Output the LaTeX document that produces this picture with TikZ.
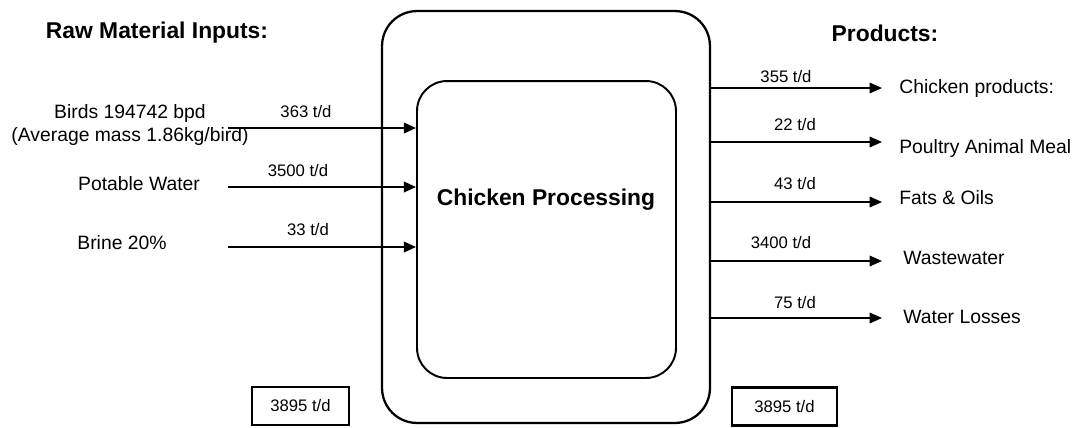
\documentclass[tikz,border=0pt]{standalone}
\usepackage{fontspec}
\setmainfont{Liberation Sans}
\usetikzlibrary{arrows.meta,positioning}

\begin{document}
\begin{tikzpicture}[x=0.02cm, y=-0.02cm,
          hdr/.style={font=\fontsize{13}{15}\selectfont\bfseries, inner sep=0pt},
          lbl/.style={font=\fontsize{11}{13.5}\selectfont, align=center, inner sep=0pt},
          amt/.style={font=\fontsize{9.5}{11}\selectfont, inner sep=0pt},
          inarr/.style={-{Triangle[length=7pt,width=6pt]}, line width=1.4pt},
          outarr/.style={-{Triangle[length=7pt,width=6pt]}, line width=0.9pt},
          totbox/.style={draw, line width=1.2pt, minimum height=0.76cm,
                         font=\fontsize{9.5}{11}\selectfont}]
        \useasboundingbox (0,0) rectangle (1073,427);
        % process blocks
        \node[draw, line width=1.3pt, rounded corners=0.7cm,
              minimum width=6.56cm, minimum height=8.24cm] (outer) at (546,217) {};
        \node[draw, line width=1.1pt, rounded corners=0.6cm,
              minimum width=5.18cm, minimum height=5.94cm] (proc) at (546.5,229.5) {};
        \node[font=\fontsize{13}{15}\selectfont\bfseries] (proclbl) at (546,200) {Chicken Processing};
        % headings
        \node[hdr] (inhdr)   at (157,33) {Raw Material Inputs:};
        \node[hdr] (outhdr)  at (885,33) {Products:};
        % inputs
        \node[lbl] (birds)   at (130,125) {Birds 194742 bpd\\(Average mass 1.86kg/bird)};
        \node[lbl] (water)   at (139,184) {Potable Water};
        \node[lbl] (brine)   at (122,243) {Brine 20\%};
        \coordinate (birdsin) at (228,128);
        \coordinate (waterin) at (228,187);
        \coordinate (brinein) at (228,247);
        \draw[inarr] (birdsin) -- (birdsin -| proc.west);
        \draw[inarr] (waterin) -- (waterin -| proc.west);
        \draw[inarr] (brinein) -- (brinein -| proc.west);
        \node[amt] (birdsamt) at (306,112) {363 t/d};
        \node[amt] (wateramt) at (298,171) {3500 t/d};
        \node[amt] (brineamt) at (308,230) {33 t/d};
        % outputs
        \coordinate (prodout)  at (882,88);
        \coordinate (mealout)  at (882,142);
        \coordinate (fatout)   at (882,202);
        \coordinate (wasteout) at (882,261);
        \coordinate (lossout)  at (882,318);
        \draw[outarr] (prodout -| outer.east)  -- (prodout);
        \draw[outarr] (mealout -| outer.east)  -- (mealout);
        \draw[outarr] (fatout -| outer.east)   -- (fatout);
        \draw[outarr] (wasteout -| outer.east) -- (wasteout);
        \draw[outarr] (lossout -| outer.east)  -- (lossout);
        \node[amt] (prodamt)  at (786,77)  {355 t/d};
        \node[amt] (mealamt)  at (795,125) {22 t/d};
        \node[amt] (fatamt)   at (795,184) {43 t/d};
        \node[amt] (wasteamt) at (781,243) {3400 t/d};
        \node[amt] (lossamt)  at (795,303) {75 t/d};
        \node[lbl, anchor=west] (prod)  at (899,88)  {Chicken products:};
        \node[lbl, anchor=west] (meal)  at (899,148) {Poultry Animal Meal};
        \node[lbl, anchor=west] (fat)   at (899,198) {Fats \& Oils};
        \node[lbl, anchor=west] (waste) at (903,258) {Wastewater};
        \node[lbl, anchor=west] (loss)  at (903,317) {Water Losses};
        % totals
        \node[totbox, minimum width=1.94cm] (intot)  at (300.5,406) {3895 t/d};
        \node[totbox, minimum width=2.1cm]  (outtot) at (784.5,406.5) {3895 t/d};
      \end{tikzpicture}
\end{document}
